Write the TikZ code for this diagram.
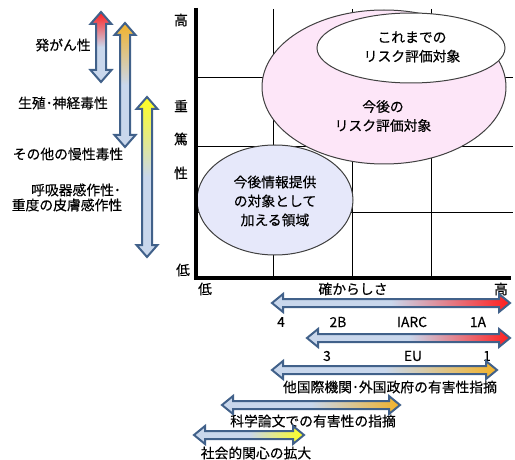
\documentclass[tikz,border=0pt]{standalone}
\usepackage{fontspec}
\usetikzlibrary{shapes.geometric}
\setmainfont{Noto Sans CJK JP}[FakeBold=0.35]
\definecolor{lb}{HTML}{C9D7EC}
\definecolor{arrline}{HTML}{41618A}
\definecolor{cred}{HTML}{FF1E1E}
\definecolor{corange}{HTML}{F2B22A}
\definecolor{cyellow}{HTML}{FFFF1E}
\definecolor{pinkfill}{HTML}{FDE6F8}
\definecolor{bluefill}{HTML}{E6E8FA}
\definecolor{ellline}{HTML}{404040}
\newcommand\harr[4]{\draw[arr,left color=lb,right color=#4,middle color=lb]
  (#1,#3) -- ({#1+11},{#3-9}) -- ({#1+11},{#3-4}) -- ({#2-11},{#3-4}) -- ({#2-11},{#3-9}) -- (#2,#3)
  -- ({#2-11},{#3+9}) -- ({#2-11},{#3+4}) -- ({#1+11},{#3+4}) -- ({#1+11},{#3+9}) -- cycle;}
\newcommand\varr[4]{\draw[arr,top color=#4,bottom color=lb,middle color=lb]
  (#1,#2) -- ({#1-10.5},{#2+12}) -- ({#1-5},{#2+12}) -- ({#1-5},{#3-12}) -- ({#1-10.5},{#3-12}) -- (#1,#3)
  -- ({#1+10.5},{#3-12}) -- ({#1+5},{#3-12}) -- ({#1+5},{#2+12}) -- ({#1+10.5},{#2+12}) -- cycle;}
\begin{document}
\begin{tikzpicture}[x=1pt,y=-1pt,
  arr/.style={draw=arrline,line width=2pt,line join=miter},
  lbl/.style={font=\fontsize{13.8}{15}\selectfont,inner sep=0pt,align=center},
  ell/.style={draw=ellline,line width=1pt},
  grid/.style={draw=black,line width=0.9pt},
  ax/.style={draw=black,line width=4pt}]
\useasboundingbox (0,0) rectangle (515,460);
% grid
\foreach \x in {273,352,431} \draw[grid] (\x,9) -- (\x,278);
\foreach \y in {77,146,212} \draw[grid] (196,\y) -- (513,\y);
% ellipses
\node[ell,fill=pinkfill,ellipse,minimum width=244,minimum height=154,inner sep=0pt] (pink) at (384,87) {};
\node[ell,fill=white,ellipse,minimum width=188,minimum height=70,inner sep=0pt] (white) at (411,48) {};
\node[ell,fill=bluefill,ellipse,minimum width=156,minimum height=110,inner sep=0pt] (blue) at (275,200) {};
\node[lbl,font=\fontsize{13.8}{19}\selectfont] (t1) at (412,47) {これまでの\\リスク評価対象};
\node[lbl,font=\fontsize{13.8}{19}\selectfont] (t2) at (383,116) {今後の\\リスク評価対象};
\node[lbl,font=\fontsize{13.8}{19}\selectfont] (t3) at (275,201) {今後情報提供\\の対象として\\加える領域};
% axes
\draw[ax] (196,8) -- (196,280);
\draw[ax] (194,278) -- (511,278);
\node[lbl] (yh) at (181,20) {高};
\node[lbl] (y1) at (181,106) {重};
\node[lbl] (y2) at (181,139) {篤};
\node[lbl] (y3) at (181,173) {性};
\node[lbl] (yl) at (183,270) {低};
\node[lbl] (xl) at (205,289) {低};
\node[lbl] (xm) at (353,289) {確からしさ};
\node[lbl] (xh) at (501,289) {高};
% vertical arrows
\varr{101}{12}{82}{cred}
\varr{125}{23}{147}{corange}
\varr{147}{97}{257}{cyellow}
\node[lbl] (l1) at (63,45) {発がん性};
\node[lbl] (l2) at (63,103) {生殖･神経毒性};
\node[lbl] (l3) at (68,154) {その他の慢性毒性};
\node[lbl] (l4) at (76,190) {呼吸器感作性･};
\node[lbl] (l5) at (67,205) {重度の皮膚感作性};
% horizontal arrows
\harr{272}{510}{303}{cred}
\node[lbl] (a4) at (281,322) {4};
\node[lbl] (a2b) at (338,322) {2B};
\node[lbl] (iarc) at (412,322) {IARC};
\node[lbl] (a1a) at (478,322) {1A};
\harr{307}{510}{338}{cred}
\node[lbl] (e3) at (327,356) {3};
\node[lbl] (eu) at (413,356) {EU};
\node[lbl] (e1) at (487,356) {1};
\harr{272}{497}{370}{corange}
\node[lbl] (b3) at (390,387) {他国際機関･外国政府の有害性指摘};
\harr{222}{400}{405}{corange}
\node[lbl] (b4) at (313,421) {科学論文での有害性の指摘};
\harr{194}{304}{435}{cyellow}
\node[lbl] (b5) at (256,453) {社会的関心の拡大};
\end{tikzpicture}
\end{document}
